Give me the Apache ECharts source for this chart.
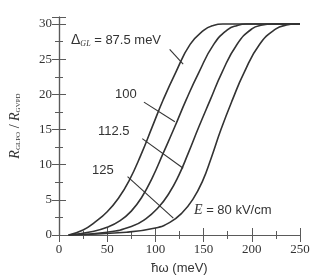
<!DOCTYPE html>
<html>
<head>
<meta charset="utf-8">
<script src="https://cdn.jsdelivr.net/npm/echarts@6/dist/echarts.min.js"></script>
<style>
html, body { margin: 0; padding: 0; background: #fff; }
#main { width: 314px; height: 280px; }
</style>
</head>
<body>
<div id="main"></div>
<script>
var chart = echarts.init(document.getElementById('main'));

// curves, one per Delta_GL
var gapNames = ['87.5', '100', '112.5', '125'];
var x875 = [10, 25, 37, 50, 62, 73, 85, 96.5, 108, 121, 136, 150, 160, 170, 250];
var y875 = [0, 0.7, 1.8, 3.3, 5.3, 7.8, 11.4, 15.3, 19.2, 23.1, 27.1, 29.1, 29.8, 30, 30];
var x100 = [10, 35, 50, 63, 75, 86, 97, 108, 120, 132, 145, 160.5, 175, 185, 194, 250];
var y100 = [0, 0.5, 1.1, 2.0, 3.4, 5.4, 8.2, 11.6, 15.35, 19.25, 23.1, 27.1, 29.2, 29.8, 30, 30];
var x1125 = [10, 50, 75, 90, 103, 114, 124, 134, 145, 157, 169, 184.6, 200, 211, 221, 250];
var y1125 = [0, 0.4, 1.2, 2.3, 3.9, 5.9, 8.4, 11.6, 15.35, 19.25, 23.1, 27.1, 29.3, 29.85, 30, 30];
var x125 = [10, 70, 100, 115, 128, 139, 149, 158, 168, 180, 192, 208, 225, 236, 245, 250];
var y125 = [0, 0.4, 1.0, 1.8, 3.2, 5.1, 7.7, 11.0, 15.0, 19.25, 23.1, 27.1, 29.3, 29.85, 30, 30];

// leader lines from labels to curves (data units)
var leadFrom = [[114.8, 26.4], [88.1, 18.9], [86.4, 13.7], [71.1, 8.3]];
var leadTo = [[128.8, 24.3], [120.2, 16.1], [128.8, 9.5], [118.6, 2.4]];

function pairs(xs, ys) {
    var out = [];
    for (var i = 0; i < xs.length; i++) out.push([xs[i], ys[i]]);
    return out;
}

var curves = [pairs(x875, y875), pairs(x100, y100), pairs(x1125, y1125), pairs(x125, y125)];
var lineCol = '#333';
var axisCol = '#5a5a5a';
var serif = 'Liberation Serif';

var series = [];
for (var i = 0; i < curves.length; i++) {
    series.push({
        name: gapNames[i],
        type: 'line',
        data: curves[i],
        smooth: 0.5,
        showSymbol: false,
        lineStyle: { color: lineCol, width: 1.6 },
        markLine: {
            silent: true,
            symbol: 'none',
            label: { show: false },
            lineStyle: { color: lineCol, width: 1.1, type: 'solid' },
            data: [[{ coord: leadFrom[i] }, { coord: leadTo[i] }]]
        }
    });
}

function tickAxis(pos, kind, show) {
    return {
        type: 'value',
        position: pos,
        min: 0,
        max: kind === 'x' ? 250 : 31,
        interval: kind === 'x' ? 50 : 5,
        splitLine: { show: false },
        axisLine: { show: true, lineStyle: { color: axisCol, width: 1.2 } },
        axisTick: { inside: true, length: 7, lineStyle: { color: axisCol, width: 1 } },
        minorTick: { show: true, splitNumber: 2, length: 4, lineStyle: { color: axisCol, width: 1 } },
        axisLabel: { show: show }
    };
}

var xBottom = tickAxis('bottom', 'x', true);
xBottom.axisLabel = { show: true, margin: 8, color: '#333', fontFamily: serif, fontSize: 13 };
xBottom.name = 'ħω (meV)';
xBottom.nameLocation = 'middle';
xBottom.nameGap = 27;
xBottom.nameTextStyle = { color: '#333', fontFamily: 'Liberation Sans', fontSize: 13 };

var yLeft = tickAxis('left', 'y', true);
yLeft.axisLabel = { show: true, margin: 7, color: '#333', fontFamily: serif, fontSize: 13, showMaxLabel: false };
yLeft.name = '{i|R}{s|GLPO}{n| / }{i|R}{s|GVPD}';
yLeft.nameLocation = 'middle';
yLeft.nameRotate = 90;
yLeft.nameGap = 37;
yLeft.nameTextStyle = {
    color: '#333',
    rich: {
        i: { fontFamily: serif, fontStyle: 'italic', fontSize: 14, color: '#333' },
        s: { fontFamily: serif, fontSize: 7, color: '#333', verticalAlign: 'bottom', padding: [6, 0, 0, 0] },
        n: { fontFamily: serif, fontSize: 14, color: '#333' }
    }
};

var xTop = tickAxis('top', 'x', false);
var yRight = tickAxis('right', 'y', false);

chart.setOption({
    animation: false,
    grid: { left: 54, right: 14, top: 17, bottom: 43 },
    xAxis: [xBottom, xTop],
    yAxis: [yLeft, yRight],
    series: series,
    graphic: [
        {
            type: 'text', left: 71, top: 33,
            style: {
                text: '{d|Δ}{s|GL}{t| = 87.5 meV}',
                rich: {
                    d: { fontFamily: 'Liberation Sans', fontSize: 14, fill: '#333' },
                    s: { fontFamily: 'Liberation Serif', fontStyle: 'italic', fontSize: 8, fill: '#333', padding: [7, 0, 0, 0] },
                    t: { fontFamily: 'Liberation Sans', fontSize: 13, fill: '#333' }
                }
            }
        },
        { type: 'text', left: 115, top: 88, style: { text: '100', fontFamily: 'Liberation Sans', fontSize: 13, fill: '#333' } },
        { type: 'text', left: 98, top: 125, style: { text: '112.5', fontFamily: 'Liberation Sans', fontSize: 13, fill: '#333' } },
        { type: 'text', left: 92, top: 164, style: { text: '125', fontFamily: 'Liberation Sans', fontSize: 13, fill: '#333' } },
        {
            type: 'text', left: 194, top: 203,
            style: {
                text: '{e|E}{t| = 80 kV/cm}',
                rich: {
                    e: { fontFamily: 'Liberation Serif', fontStyle: 'italic', fontSize: 14, fill: '#333' },
                    t: { fontFamily: 'Liberation Sans', fontSize: 13, fill: '#333' }
                }
            }
        }
    ]
});
</script>
</body>
</html>
